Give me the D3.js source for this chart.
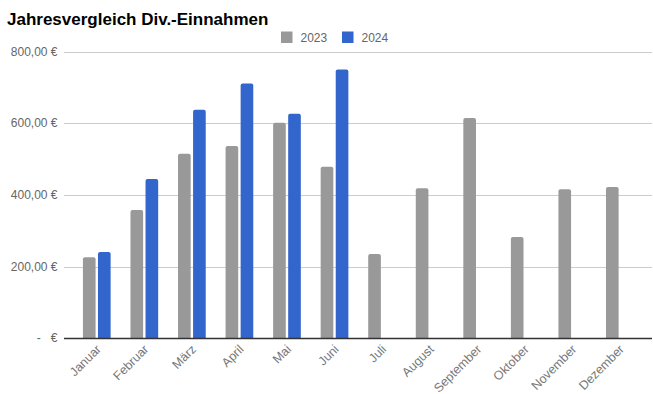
<!DOCTYPE html>
<html>
<head>
<meta charset="utf-8">
<script src="https://cdn.jsdelivr.net/npm/d3@7"></script>
<style>
  body { margin: 0; background: #fff; }
  text { font-family: Arial, "Liberation Sans", sans-serif; }
</style>
</head>
<body>
<svg id="chart" width="653" height="394"></svg>
<script>
var months = ["Januar", "Februar", "März", "April", "Mai", "Juni", "Juli", "August", "September", "Oktober", "November", "Dezember"];
var seriesNames = ["2023", "2024"];
var values2023 = [226, 358, 515, 537, 602, 479, 235, 419, 615, 283, 416, 422];
var values2024 = [241, 445, 638, 711, 627, 750, null, null, null, null, null, null];
var yTicks = [0, 200, 400, 600, 800];
var seriesColors = ["#999999", "#3366cc"];

var svg = d3.select("#chart");

var x = d3.scaleBand().domain(months).range([73, 643.6]);
var groupW = 27.7;
var x1 = d3.scaleBand().domain(seriesNames)
    .range([(x.bandwidth() - groupW) / 2, (x.bandwidth() + groupW) / 2])
    .paddingInner(0.16);
var y = d3.scaleLinear().domain([0, 800]).range([338.3, 51.7]);

function fmtEuro(v) {
    if (v === 0) return "-   €";
    return d3.format(",.2f")(v).replace(/,/g, "X").replace(".", ",").replace(/X/g, ".") + " €";
}

// title
svg.append("text")
    .attr("x", 7)
    .attr("y", 25)
    .style("font-size", "17px")
    .style("font-weight", "bold")
    .style("fill", "#000")
    .text("Jahresvergleich Div.-Einnahmen");

// legend
var legend = svg.append("g");
var legendX = [281, 342];
seriesNames.forEach(function(name, i) {
    legend.append("rect")
        .attr("x", legendX[i])
        .attr("y", 31.5)
        .attr("width", 11.5)
        .attr("height", 11.5)
        .attr("fill", seriesColors[i]);
    legend.append("text")
        .attr("x", legendX[i] + 19.5)
        .attr("y", 41.5)
        .style("font-size", "12px")
        .style("fill", "#666")
        .text(name);
});

// gridlines
svg.append("g")
    .selectAll("line")
    .data(yTicks.filter(function(d) { return d > 0; }))
    .enter()
    .append("line")
    .attr("x1", 64)
    .attr("x2", 652)
    .attr("y1", function(d) { return Math.round(y(d)) + 0.5; })
    .attr("y2", function(d) { return Math.round(y(d)) + 0.5; })
    .attr("stroke", "#cccccc")
    .attr("stroke-width", 1);

// y labels
svg.append("g")
    .selectAll("text")
    .data(yTicks)
    .enter()
    .append("text")
    .attr("x", 57.5)
    .attr("y", function(d) { return y(d) + 4; })
    .attr("text-anchor", "end")
    .style("font-size", "12px")
    .style("fill", "#666")
    .style("white-space", "pre")
    .text(fmtEuro);

// bars
var rows = months.map(function(m, i) {
    return { month: m, vals: [values2023[i], values2024[i]] };
});

function barPath(x0, w, top, bottom, r) {
    return "M" + x0 + "," + bottom +
        "V" + (top + r) +
        "Q" + x0 + "," + top + " " + (x0 + r) + "," + top +
        "H" + (x0 + w - r) +
        "Q" + (x0 + w) + "," + top + " " + (x0 + w) + "," + (top + r) +
        "V" + bottom + "Z";
}

var groups = svg.append("g")
    .selectAll("g")
    .data(rows)
    .enter()
    .append("g")
    .attr("transform", function(d) { return "translate(" + x(d.month) + ",0)"; });

groups.selectAll("path")
    .data(function(d) {
        return d.vals.map(function(v, i) { return { name: seriesNames[i], value: v, idx: i }; })
            .filter(function(e) { return e.value != null; });
    })
    .enter()
    .append("path")
    .attr("d", function(d) {
        return barPath(x1(d.name), x1.bandwidth(), y(d.value), y(0), 2);
    })
    .attr("fill", function(d) { return seriesColors[d.idx]; });

// x axis line
svg.append("line")
    .attr("x1", 64)
    .attr("x2", 652)
    .attr("y1", 338.5)
    .attr("y2", 338.5)
    .attr("stroke", "#333")
    .attr("stroke-width", 1.3);

// x labels
svg.append("g")
    .selectAll("text")
    .data(months)
    .enter()
    .append("text")
    .attr("transform", function(d) {
        var cx = x(d) + x.bandwidth() / 2 + 5;
        return "translate(" + cx + ",350) rotate(-45)";
    })
    .attr("text-anchor", "end")
    .style("font-size", "12.5px")
    .style("fill", "#777")
    .text(function(d) { return d; });
</script>
</body>
</html>
